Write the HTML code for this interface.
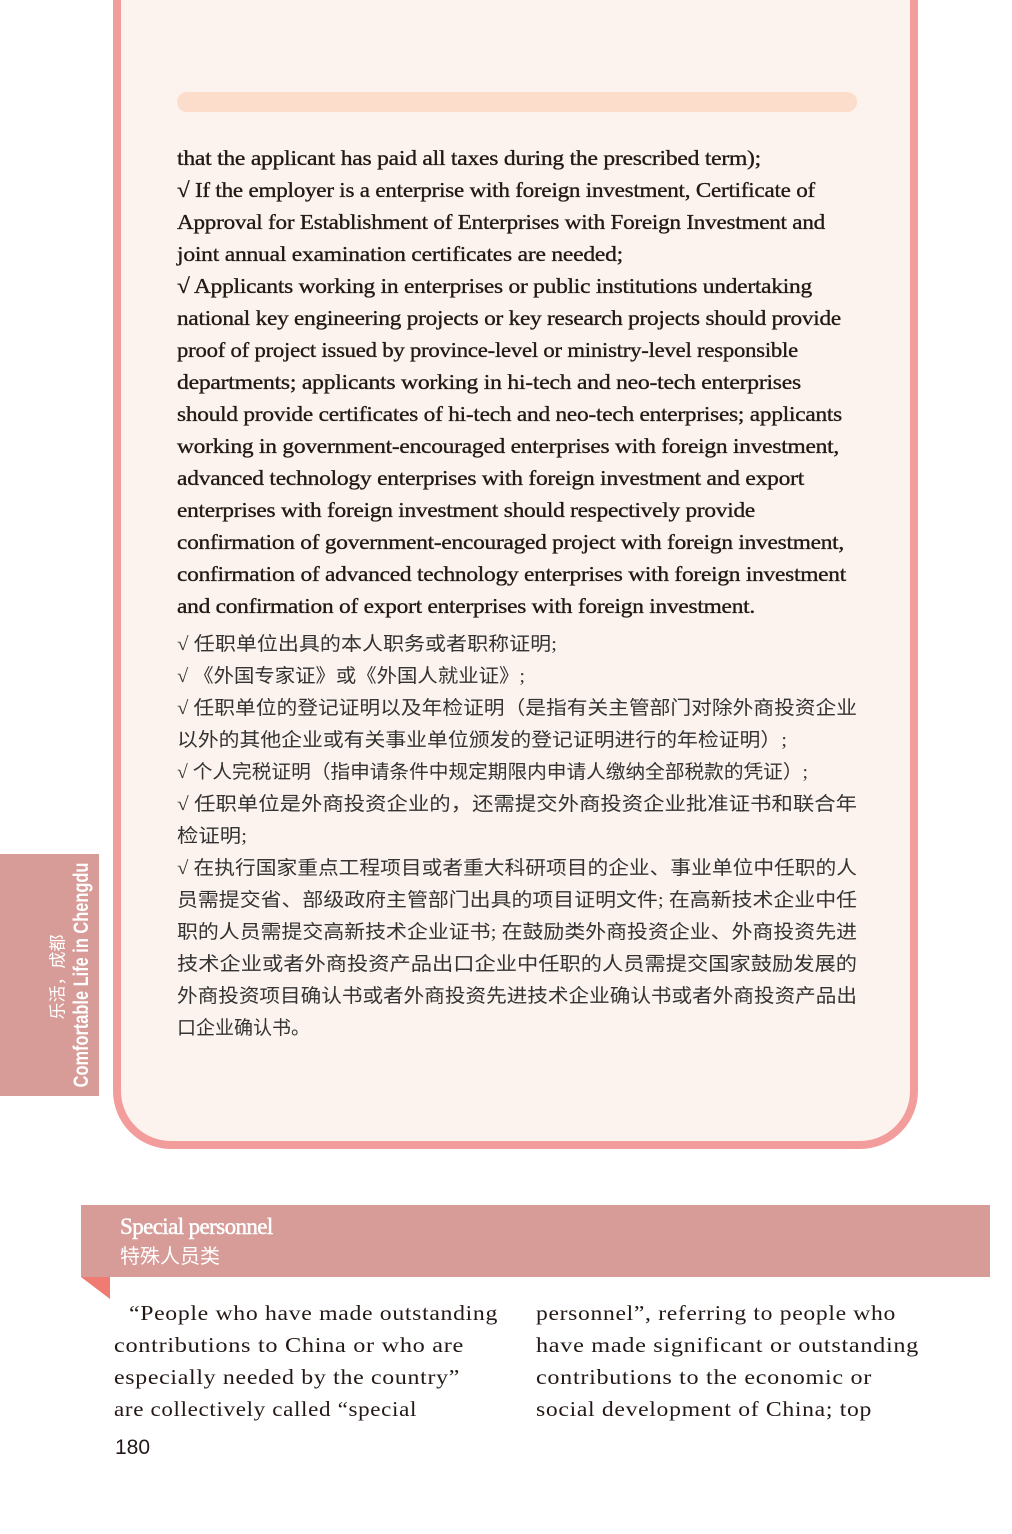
<!DOCTYPE html>
<html><head><meta charset="utf-8">
<style>
html,body{margin:0;padding:0;}
body{width:1012px;height:1534px;position:relative;background:#fff;overflow:hidden;font-family:"Liberation Serif","Noto Serif CJK SC",serif;}
.card{position:absolute;left:113px;top:-60px;width:789px;height:1193px;border:8px solid #f39c9c;border-radius:0 0 58px 58px;background:#fdf3ee;}
.bar{position:absolute;left:177px;top:92px;width:680px;height:20px;border-radius:10px;background:#fcdccb;}
.ln{position:absolute;white-space:nowrap;transform-origin:0 50%;line-height:32px;height:32px;color:#231815;}
.en{font-size:21px;-webkit-text-stroke:0.35px #231815;letter-spacing:-0.2px;}
.zh{font-size:19px;font-family:"Liberation Serif","Noto Sans CJK SC",sans-serif;color:#333;}
.bt{font-size:21px;color:#231815;letter-spacing:0.6px;}
.tab{position:absolute;left:0;top:854px;width:99px;height:242px;background:#d79b98;}
.tab .v{position:absolute;left:50%;top:50%;transform:translate(-50%,-50%) rotate(-90deg);white-space:nowrap;color:#fff;}
.hdr{position:absolute;left:81px;top:1205px;width:909px;height:72px;background:#d79b98;color:#fff;}
</style></head><body>
<div class="card"></div>
<div class="bar"></div>

<div class="tab">
 <div class="v" style="font-family:'Liberation Sans',sans-serif;font-weight:bold;font-size:21px;transform:translate(-50%,-50%) rotate(-90deg) scaleX(0.78);margin-left:32px;margin-top:0px;">Comfortable Life in Chengdu</div>
 <div class="v" style="font-family:'Noto Sans CJK SC',sans-serif;font-size:17px;margin-left:6px;margin-top:2px;">乐活，成都</div>
</div>

<div class="hdr">
 <div style="position:absolute;left:39px;top:9px;font-size:23px;letter-spacing:-0.6px;-webkit-text-stroke:0.5px #fff;">Special personnel</div>
 <div style="position:absolute;left:39px;top:35px;font-size:20px;font-family:'Noto Sans CJK SC',sans-serif;">特殊人员类</div>
</div>
<svg style="position:absolute;left:81px;top:1277px" width="30" height="23"><polygon points="0,0 29,0 29,22" fill="#ef7b72"/></svg>

<div id="lines"></div>
<div style="position:absolute;left:115px;top:1436px;font-size:21px;font-family:'Liberation Sans',sans-serif;color:#231815;">180</div>

<script>
const en=[
["that the applicant has paid all taxes during the prescribed term);",761],
["√ If the employer is a enterprise with foreign investment, Certificate of",815],
["Approval for Establishment of Enterprises with Foreign Investment and",825],
["joint annual examination certificates are needed;",623],
["√ Applicants working in enterprises or public institutions undertaking",812],
["national key engineering projects or key research projects should provide",841],
["proof of project issued by province-level or ministry-level responsible",798],
["departments; applicants working in hi-tech and neo-tech enterprises",801],
["should provide certificates of hi-tech and neo-tech enterprises; applicants",842],
["working in government-encouraged enterprises with foreign investment,",839],
["advanced technology enterprises with foreign investment and export",804],
["enterprises with foreign investment should respectively provide",755],
["confirmation of government-encouraged project with foreign investment,",844],
["confirmation of advanced technology enterprises with foreign investment",846],
["and confirmation of export enterprises with foreign investment.",755]];
const zh=[
["√ 任职单位出具的本人职务或者职称证明;",557],
["√ 《外国专家证》或《外国人就业证》;",525],
["√ 任职单位的登记证明以及年检证明（是指有关主管部门对除外商投资企业",857],
["以外的其他企业或有关事业单位颁发的登记证明进行的年检证明）;",787],
["√ 个人完税证明（指申请条件中规定期限内申请人缴纳全部税款的凭证）;",808],
["√ 任职单位是外商投资企业的，还需提交外商投资企业批准证书和联合年",857],
["检证明;",247],
["√ 在执行国家重点工程项目或者重大科研项目的企业、事业单位中任职的人",857],
["员需提交省、部级政府主管部门出具的项目证明文件; 在高新技术企业中任",857],
["职的人员需提交高新技术企业证书; 在鼓励类外商投资企业、外商投资先进",857],
["技术企业或者外商投资产品出口企业中任职的人员需提交国家鼓励发展的",857],
["外商投资项目确认书或者外商投资先进技术企业确认书或者外商投资产品出",857],
["口企业确认书。",310]];
const b1=[["“People who have made outstanding",129,498],["contributions to China or who are",114,464],["especially needed by the country”",114,460],["are collectively called “special",114,417]];
const b2=[["personnel”, referring to people who",536,896],["have made significant or outstanding",536,919],["contributions to the economic or",536,872],["social development of China; top",536,872]];
const host=document.getElementById('lines');
function add(text,cls,x,cy,right,name){
 const d=document.createElement('div');
 
 
 d.className='ln '+cls;d.textContent=text;
 d.style.left=x+'px';d.style.top=(cy-16)+'px';
 host.appendChild(d);
 const w=d.getBoundingClientRect().width;
 d.style.transform='scaleX('+((right-x)/w)+')';
}
en.forEach((l,i)=>add(l[0],'en',177,158+32*i,l[1],'english-line'));
zh.forEach((l,i)=>add(l[0],'zh',177,645+32*i,l[1],'chinese-line'));
b1.forEach((l,i)=>add(l[0],'bt',l[1],1313+32*i,l[2],'body-left-line'));
b2.forEach((l,i)=>add(l[0],'bt',l[1],1313+32*i,l[2],'body-right-line'));
</script>
</body></html>
